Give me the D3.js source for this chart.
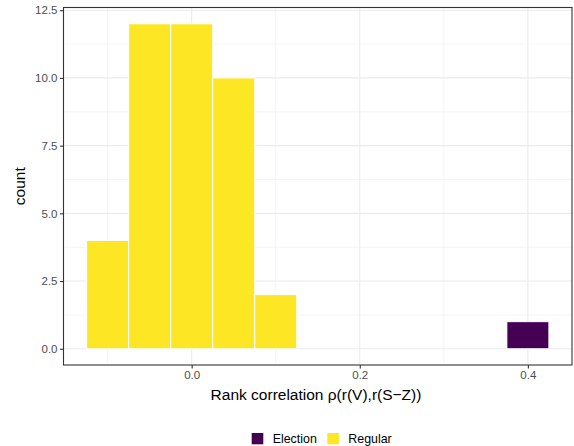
<!DOCTYPE html>
<html><head><meta charset="utf-8">
<script src="https://cdn.jsdelivr.net/npm/d3@7"></script>
<style>body{margin:0;background:#fff;} svg{display:block;font-family:"Liberation Sans",Arial,sans-serif;}</style>
</head><body>
<script>
const binCenters = [-0.1, -0.05, 0, 0.05, 0.1, 0.4];
const counts     = [4, 12, 12, 10, 2, 1];
const groups     = ["Regular","Regular","Regular","Regular","Regular","Election"];
const binWidth = 0.05;
const xTicks = [0, 0.2, 0.4];
const yTicks = [0, 2.5, 5, 7.5, 10, 12.5];
const legendKeys = ["Election","Regular"];
const legendColors = ["#440154","#FDE725"];

const W = 574, H = 446;
const svg = d3.select("body").append("svg").attr("width", W).attr("height", H);
const L = 63.5, R = 572, T = 7.5, B = 365;
const x = d3.scaleLinear().domain([-0.1525, 0.4525]).range([L, R]);
const y = d3.scaleLinear().domain([-0.6, 12.6]).range([B, T]);
const color = d3.scaleOrdinal().domain(legendKeys).range(legendColors);

// grid
const g = svg.append("g");
const xMinor = [-0.1, 0.1, 0.3];
const yMinor = [1.25, 3.75, 6.25, 8.75, 11.25];
g.selectAll(".xm").data(xMinor).join("line").attr("x1", d=>x(d)).attr("x2", d=>x(d)).attr("y1", T).attr("y2", B).attr("stroke", "#EBEBEB").attr("stroke-width", 0.55);
g.selectAll(".ym").data(yMinor).join("line").attr("y1", d=>y(d)).attr("y2", d=>y(d)).attr("x1", L).attr("x2", R).attr("stroke", "#EBEBEB").attr("stroke-width", 0.55);
g.selectAll(".xM").data(xTicks).join("line").attr("x1", d=>x(d)).attr("x2", d=>x(d)).attr("y1", T).attr("y2", B).attr("stroke", "#EBEBEB").attr("stroke-width", 1.1);
g.selectAll(".yM").data(yTicks).join("line").attr("y1", d=>y(d)).attr("y2", d=>y(d)).attr("x1", L).attr("x2", R).attr("stroke", "#EBEBEB").attr("stroke-width", 1.1);

// bars
svg.append("g").selectAll("rect").data(binCenters).join("rect")
  .attr("x", (d)=>x(d - binWidth/2))
  .attr("width", (d)=>x(d + binWidth/2) - x(d - binWidth/2))
  .attr("y", (d,i)=>y(counts[i]))
  .attr("height", (d,i)=>y(0) - y(counts[i]))
  .attr("fill", (d,i)=>color(groups[i]))
  .attr("stroke", "#fff").attr("stroke-width", 1);

// panel border
svg.append("rect").attr("x", L).attr("y", T).attr("width", R-L).attr("height", B-T)
  .attr("fill", "none").attr("stroke", "#333333").attr("stroke-width", 1.1);

// axes
const xAxis = svg.append("g").attr("transform", `translate(0,${B})`)
  .call(d3.axisBottom(x).tickValues(xTicks).tickFormat(d3.format(".1f")).tickSize(3.5).tickPadding(2.5));
const yAxis = svg.append("g").attr("transform", `translate(${L},0)`)
  .call(d3.axisLeft(y).tickValues(yTicks).tickFormat(d3.format(".1f")).tickSize(3.5).tickPadding(2.5));
[xAxis, yAxis].forEach(a => {
  a.select(".domain").remove();
  a.selectAll(".tick line").attr("stroke", "#333333").attr("stroke-width", 1.1);
  a.selectAll(".tick text").attr("fill", "#4D4D4D").style("font-size", "11.5px").style("font-family", "'Liberation Sans',Arial,sans-serif");
});

// titles
svg.append("text").attr("x", 316).attr("y", 399.5).attr("text-anchor", "middle")
  .style("font-size", "15.5px").attr("fill", "#000").text("Rank correlation ρ(r(V),r(S−Z))");
svg.append("text").attr("transform", `translate(24.5,${(T+B)/2}) rotate(-90)`).attr("text-anchor", "middle")
  .style("font-size", "15.5px").attr("fill", "#000").text("count");

// legend
const leg = svg.append("g");
const legX = [251.7, 327.3];
leg.selectAll("rect").data(legendKeys).join("rect")
  .attr("x", (d,i)=>legX[i]).attr("y", 433).attr("width", 11.6).attr("height", 11.3)
  .attr("fill", d=>color(d));
leg.selectAll("text").data(legendKeys).join("text")
  .attr("x", (d,i)=>legX[i] + 21).attr("y", 443.3)
  .style("font-size", "12.4px").attr("fill", "#000").text(d=>d);
</script>
</body></html>
